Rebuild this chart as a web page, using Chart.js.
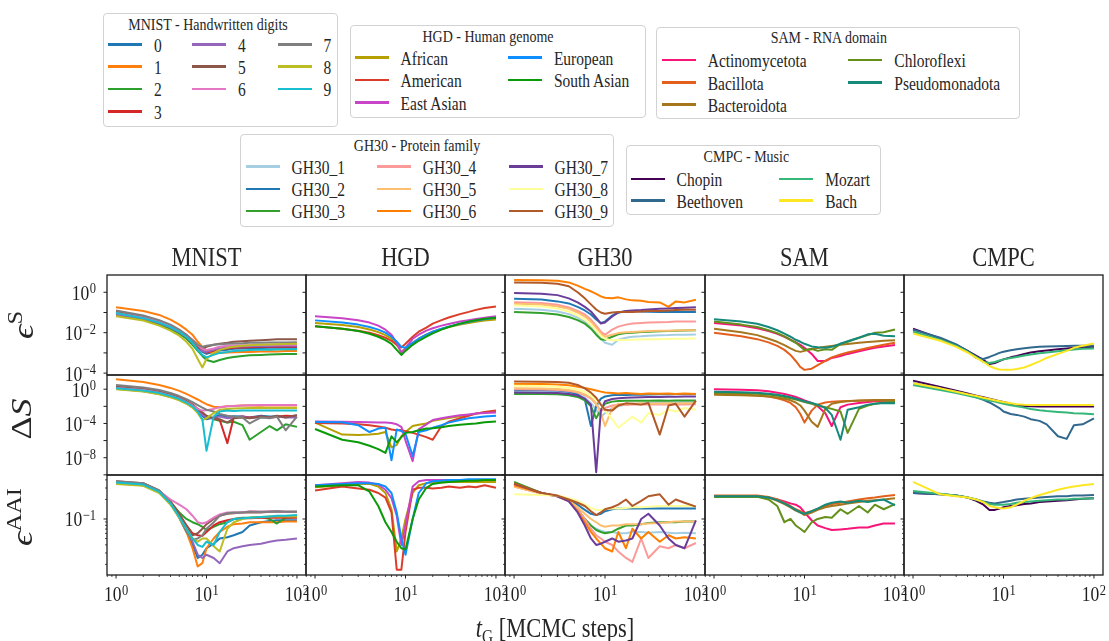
<!DOCTYPE html>
<html>
<head>
<meta charset="utf-8">
<script src="https://cdn.jsdelivr.net/npm/chart.js@4.4.1/dist/chart.umd.min.js"></script>
<style>
  html, body { margin: 0; padding: 0; background: #fff; }
  #fig { position: relative; width: 1109px; height: 641px; overflow: hidden; background: #fff;
         font-family: "Liberation Serif", "DejaVu Serif", serif; color: #262626; }
  #fig canvas { position: absolute; }
  .txt { position: absolute; white-space: nowrap; line-height: 1; }
  .lg { position: absolute; border: 1px solid #d2d2d2; border-radius: 4px; background: #fff; box-sizing: border-box; }
  .sw { position: absolute; height: 2.5px; width: 34px; }
</style>
</head>
<body>
<div id="fig"></div>
<script>
// MCMC steps at which every curve is sampled
const T_STEPS = [1, 2, 3, 4, 5, 6, 7, 8, 9, 10, 12, 14, 17, 20, 25, 30, 40, 50, 60, 75, 100];

const MNIST_LABELS = ['0', '1', '2', '3', '4', '5', '6', '7', '8', '9'];
const MNIST_COLORS = ['#1f77b4', '#ff7f0e', '#2ca02c', '#d62728', '#9467bd', '#8c564b', '#e377c2', '#7f7f7f', '#bcbd22', '#17becf'];
const HGD_LABELS = ['African', 'American', 'East Asian', 'European', 'South Asian'];
const HGD_COLORS = ['#b5a000', '#dc3d2a', '#c845c8', '#0f8fff', '#0a9a0a'];
const GH30_LABELS = ['GH30_1', 'GH30_2', 'GH30_3', 'GH30_4', 'GH30_5', 'GH30_6', 'GH30_7', 'GH30_8', 'GH30_9'];
const GH30_COLORS = ['#a6cee3', '#1f78b4', '#33a02c', '#fb9a99', '#fdbf6f', '#ff7f00', '#6a3d9a', '#ffff99', '#b15928'];
const SAM_LABELS = ['Actinomycetota', 'Bacillota', 'Bacteroidota', 'Chloroflexi', 'Pseudomonadota'];
const SAM_COLORS = ['#f7157a', '#e2601c', '#a6761d', '#64901a', '#158a7c'];
const CMPC_LABELS = ['Chopin', 'Beethoven', 'Mozart', 'Bach'];
const CMPC_COLORS = ['#440154', '#31688e', '#35b779', '#fde725'];

// all curves below are log10 of the plotted value, one row per legend entry
const mnistEpsS = [
  [-0.95, -1.2, -1.42, -1.65, -1.9, -2.15, -2.45, -2.75, -2.95, -3.05, -2.95, -2.88, -2.84, -2.8, -2.78, -2.77, -2.76, -2.75, -2.75, -2.75, -2.75],
  [-0.74, -0.93, -1.12, -1.35, -1.6, -1.85, -2.1, -2.45, -2.7, -2.88, -3.02, -3.0, -2.98, -2.97, -2.95, -2.95, -2.93, -2.92, -2.93, -2.9, -2.9],
  [-1.12, -1.35, -1.58, -1.82, -2.05, -2.3, -2.6, -2.9, -3.15, -3.35, -3.45, -3.35, -3.25, -3.2, -3.15, -3.12, -3.1, -3.08, -3.07, -3.05, -3.05],
  [-1.05, -1.28, -1.5, -1.72, -1.95, -2.2, -2.5, -2.75, -2.9, -2.98, -2.9, -2.82, -2.78, -2.75, -2.73, -2.72, -2.7, -2.7, -2.7, -2.7, -2.7],
  [-1.1, -1.3, -1.52, -1.75, -1.98, -2.22, -2.5, -2.78, -2.92, -2.95, -2.85, -2.78, -2.72, -2.7, -2.68, -2.67, -2.66, -2.66, -2.65, -2.65, -2.65],
  [-0.95, -1.2, -1.42, -1.65, -1.9, -2.15, -2.45, -2.75, -2.8, -2.7, -2.6, -2.55, -2.5, -2.45, -2.42, -2.4, -2.37, -2.35, -2.33, -2.33, -2.32],
  [-1.02, -1.25, -1.45, -1.65, -1.88, -2.1, -2.35, -2.62, -2.8, -2.85, -2.78, -2.7, -2.65, -2.63, -2.62, -2.62, -2.61, -2.6, -2.6, -2.6, -2.6],
  [-0.9, -1.15, -1.38, -1.6, -1.85, -2.1, -2.38, -2.6, -2.7, -2.65, -2.6, -2.57, -2.55, -2.53, -2.52, -2.5, -2.5, -2.48, -2.48, -2.48, -2.47],
  [-1.19, -1.4, -1.65, -1.9, -2.15, -2.45, -2.8, -3.3, -3.72, -3.3, -3.0, -2.85, -2.75, -2.7, -2.65, -2.62, -2.6, -2.58, -2.57, -2.56, -2.55],
  [-1.03, -1.28, -1.5, -1.72, -1.95, -2.2, -2.5, -2.85, -3.1, -3.22, -3.1, -3.0, -2.95, -2.9, -2.88, -2.86, -2.85, -2.84, -2.83, -2.82, -2.82]
];
const mnistDeltaS = [
  [0.1, -0.2, -0.5, -0.85, -1.2, -1.6, -2.05, -2.6, -3.1, -3.5, -3.3, -3.0, -3.3, -3.15, -3.2, -3.3, -3.1, -3.2, -3.15, -3.2, -3.2],
  [1.17, 0.85, 0.5, 0.15, -0.2, -0.55, -0.9, -1.2, -1.5, -1.75, -2.05, -2.1, -2.0, -1.95, -1.9, -1.9, -1.92, -1.88, -1.9, -1.88, -1.9],
  [0.1, -0.18, -0.5, -0.85, -1.2, -1.6, -2.0, -2.5, -2.9, -3.2, -3.5, -3.7, -3.9, -3.8, -4.2, -5.9, -5.0, -4.3, -4.8, -4.1, -4.4],
  [0.25, 0, -0.3, -0.65, -1.0, -1.4, -1.8, -2.3, -2.8, -3.2, -3.4, -3.6, -6.3, -3.3, -3.2, -3.3, -3.2, -3.3, -3.25, -3.1, -3.15],
  [0.05, -0.25, -0.55, -0.9, -1.25, -1.65, -2.1, -2.6, -3.0, -3.3, -3.35, -3.2, -3.4, -3.3, -3.2, -3.35, -3.25, -3.3, -3.2, -3.3, -3.3],
  [0.3, 0, -0.3, -0.65, -1.0, -1.4, -1.8, -2.3, -2.7, -3.1, -3.4, -3.5, -3.9, -3.4, -3.3, -3.4, -3.2, -3.3, -3.1, -3.3, -3.0],
  [0.15, -0.1, -0.4, -0.75, -1.1, -1.5, -1.9, -2.3, -2.5, -2.45, -2.3, -2.1, -2.0, -1.95, -1.9, -1.88, -1.85, -1.85, -1.83, -1.83, -1.83],
  [0.5, 0.2, -0.1, -0.45, -0.8, -1.15, -1.5, -1.85, -2.15, -2.4, -2.6, -2.9, -3.1, -3.2, -3.3, -4.0, -3.3, -3.4, -3.2, -4.8, -3.2],
  [0, -0.28, -0.6, -0.95, -1.3, -1.7, -2.15, -2.8, -3.6, -3.4, -2.8, -2.4, -2.3, -2.25, -2.22, -2.2, -2.2, -2.2, -2.2, -2.2, -2.2],
  [0.12, -0.15, -0.45, -0.8, -1.15, -1.55, -2.0, -2.6, -3.5, -7.2, -3.2, -2.6, -2.5, -2.55, -2.5, -2.5, -2.48, -2.5, -2.5, -2.5, -2.5]
];
const mnistEpsAAI = [
  [-0.43, -0.46, -0.57, -0.75, -0.97, -1.18, -1.4, -1.6, -1.55, -1.45, -1.38, -1.3, -1.28, -1.25, -1.2, -1.1, -1.05, -1.03, -1.02, -1.02, -1.02],
  [-0.45, -0.48, -0.58, -0.76, -0.98, -1.2, -1.45, -1.73, -1.68, -1.45, -1.3, -1.2, -1.12, -1.08, -1.07, -1.05, -1.05, -1.05, -1.05, -1.04, -1.04],
  [-0.45, -0.48, -0.58, -0.74, -0.9, -1.0, -1.05, -1.08, -1.12, -1.17, -1.12, -1.08, -1.05, -1.0, -0.98, -0.98, -0.97, -1.0, -1.07, -0.98, -0.97],
  [-0.43, -0.46, -0.57, -0.74, -0.93, -1.1, -1.22, -1.25, -1.26, -1.2, -1.1, -1.05, -1.02, -1.0, -0.99, -0.99, -0.98, -0.98, -0.98, -0.98, -0.98],
  [-0.44, -0.47, -0.58, -0.75, -0.95, -1.15, -1.35, -1.55, -1.6, -1.55, -1.6, -1.68, -1.5, -1.45, -1.42, -1.4, -1.38, -1.35, -1.33, -1.32, -1.3],
  [-0.42, -0.45, -0.56, -0.73, -0.92, -1.1, -1.25, -1.22, -1.15, -1.08, -1.0, -0.95, -0.92, -0.91, -0.9, -0.9, -0.9, -0.89, -0.89, -0.89, -0.89],
  [-0.44, -0.47, -0.57, -0.7, -0.78, -0.85, -0.95, -1.05, -1.07, -1.05, -0.98, -0.93, -0.9, -0.9, -0.9, -0.88, -0.89, -0.88, -0.88, -0.89, -0.89],
  [-0.42, -0.45, -0.56, -0.75, -0.98, -1.2, -1.32, -1.3, -1.25, -1.15, -1.05, -0.95, -0.91, -0.9, -0.9, -0.89, -0.89, -0.89, -0.88, -0.89, -0.89],
  [-0.46, -0.49, -0.6, -0.78, -0.98, -1.15, -1.3, -1.35, -1.3, -1.3, -1.42, -1.5, -1.15, -1.05, -1.0, -0.98, -0.97, -0.96, -0.96, -0.96, -0.96],
  [-0.44, -0.47, -0.58, -0.76, -0.97, -1.15, -1.3, -1.4, -1.43, -1.35, -1.4, -1.2, -1.05, -1.0, -0.99, -0.98, -0.97, -0.96, -0.95, -0.95, -0.94]
];

const hgdEpsS = [
  [-1.52, -1.62, -1.72, -1.84, -1.97, -2.12, -2.3, -2.6, -2.95, -2.8, -2.5, -2.3, -2.1, -1.95, -1.82, -1.72, -1.6, -1.52, -1.46, -1.4, -1.35],
  [-1.68, -1.8, -1.9, -2.0, -2.12, -2.25, -2.4, -2.6, -2.73, -2.55, -2.2, -1.95, -1.75, -1.55, -1.38, -1.25, -1.08, -0.97, -0.87, -0.78, -0.7],
  [-1.19, -1.28, -1.38, -1.5, -1.65, -1.85, -2.1, -2.5, -3.0, -2.75, -2.3, -2.1, -1.9, -1.78, -1.65, -1.57, -1.45, -1.38, -1.32, -1.26, -1.19],
  [-1.39, -1.5, -1.6, -1.72, -1.85, -2.0, -2.2, -2.45, -2.7, -2.75, -2.5, -2.3, -2.1, -1.95, -1.8, -1.7, -1.56, -1.47, -1.4, -1.33, -1.26],
  [-1.68, -1.8, -1.92, -2.05, -2.2, -2.37, -2.55, -2.85, -3.1, -2.9, -2.6, -2.4, -2.2, -2.03, -1.85, -1.72, -1.55, -1.45, -1.38, -1.31, -1.26]
];
const hgdDeltaS = [
  [-3.9, -5.3, -5.35, -5.3, -5.2, -5.0, -6.8, -6.5, -5.5, -5.0, -4.3, -4.15, -4.0, -3.7, -3.5, -3.35, -3.15, -3.0, -2.85, -2.72, -2.6],
  [-3.95, -4.0, -4.1, -4.2, -4.35, -4.5, -4.7, -4.8, -4.75, -4.9, -5.1, -5.3, -5.6, -5.9, -4.3, -3.8, -3.4, -3.1, -2.85, -2.65, -2.49],
  [-3.77, -3.8, -3.82, -3.85, -3.88, -3.9, -3.95, -4.1, -4.4, -6.0, -8.4, -4.7, -4.1, -3.6, -3.4, -3.25, -3.05, -2.95, -2.85, -2.78, -2.72],
  [-3.82, -3.85, -4.2, -5.0, -4.6, -4.5, -8.3, -4.7, -4.9, -5.2, -7.8, -5.0, -4.8, -4.5, -4.2, -3.9, -3.6, -3.4, -3.3, -3.2, -3.1],
  [-4.65, -5.9, -6.2, -6.6, -7.0, -7.44, -5.5, -6.2, -5.6, -5.1, -5.0, -4.8, -4.6, -4.55, -4.45, -4.3, -4.15, -4.05, -4.0, -3.85, -3.77]
];
const hgdEpsAAI = [
  [-0.51, -0.48, -0.46, -0.46, -0.5, -0.6, -0.85, -1.5, -1.3, -1.0, -0.6, -0.48, -0.45, -0.44, -0.44, -0.43, -0.43, -0.43, -0.43, -0.43, -0.43],
  [-0.56, -0.5, -0.53, -0.55, -0.6, -0.67, -0.9, -1.78, -1.78, -1.2, -0.55, -0.52, -0.52, -0.53, -0.52, -0.5, -0.52, -0.5, -0.51, -0.48, -0.52],
  [-0.48, -0.45, -0.43, -0.44, -0.47, -0.55, -0.68, -0.95, -1.4, -1.1, -0.5, -0.42, -0.4, -0.4, -0.4, -0.4, -0.4, -0.4, -0.4, -0.4, -0.4],
  [-0.48, -0.46, -0.45, -0.45, -0.46, -0.5, -0.6, -0.9, -1.3, -1.55, -1.0, -0.6, -0.45, -0.42, -0.41, -0.4, -0.4, -0.39, -0.39, -0.39, -0.39],
  [-0.5, -0.48, -0.48, -0.58, -0.8, -1.05, -1.2, -1.35, -1.45, -1.47, -1.0, -0.7, -0.52, -0.46, -0.44, -0.43, -0.42, -0.41, -0.41, -0.4, -0.4]
];

const gh30EpsS = [
  [-0.82, -0.86, -0.95, -1.08, -1.25, -1.45, -1.7, -2.0, -2.3, -2.5, -2.6, -2.35, -2.25, -2.2, -2.18, -2.15, -2.13, -2.12, -2.1, -2.1, -2.09],
  [-0.32, -0.36, -0.45, -0.55, -0.72, -0.9, -1.1, -1.35, -1.52, -1.45, -1.15, -1.0, -0.95, -0.93, -0.95, -0.96, -0.97, -0.97, -0.98, -0.98, -0.98],
  [-0.98, -1.02, -1.1, -1.22, -1.38, -1.55, -1.8, -2.1, -2.32, -2.35, -2.2, -2.08, -2.02, -2.0, -1.97, -1.95, -1.93, -1.91, -1.9, -1.89, -1.88],
  [-0.49, -0.53, -0.62, -0.75, -0.92, -1.1, -1.35, -1.65, -1.95, -2.1, -1.85, -1.7, -1.6, -1.55, -1.52, -1.5, -1.48, -1.47, -1.45, -1.45, -1.44],
  [-0.57, -0.6, -0.7, -0.82, -1.0, -1.2, -1.45, -1.75, -2.05, -2.2, -2.1, -2.02, -1.98, -1.96, -1.94, -1.92, -1.9, -1.9, -1.89, -1.88, -1.88],
  [0.61, 0.6, 0.57, 0.49, 0.33, 0.17, 0.05, -0.08, -0.2, -0.27, -0.3, -0.25, -0.35, -0.4, -0.42, -0.48, -0.5, -0.72, -0.45, -0.5, -0.37],
  [-0.03, -0.07, -0.14, -0.3, -0.5, -0.72, -0.95, -1.25, -1.55, -1.5, -1.2, -1.0, -0.92, -0.9, -0.88, -0.85, -0.82, -0.8, -0.78, -0.76, -0.74],
  [-0.65, -0.7, -0.8, -0.95, -1.15, -1.35, -1.6, -1.9, -2.15, -2.3, -2.38, -2.36, -2.36, -2.35, -2.34, -2.33, -2.32, -2.31, -2.3, -2.3, -2.29],
  [0.49, 0.47, 0.42, 0.3, 0.0, -0.3, -0.6, -0.85, -1.0, -1.06, -1.0, -0.98, -0.97, -0.98, -0.95, -0.93, -0.92, -0.9, -0.88, -0.87, -0.86]
];
const gh30DeltaS = [
  [-0.28, -0.3, -0.35, -0.45, -0.65, -1.0, -1.6, -2.4, -3.2, -2.8, -2.2, -2.0, -1.8, -1.7, -1.65, -1.6, -1.55, -1.55, -1.52, -1.5, -1.5],
  [-0.08, -0.1, -0.15, -0.3, -0.6, -1.2, -4.3, -2.0, -1.1, -0.85, -0.7, -0.65, -0.68, -0.66, -0.65, -0.62, -0.6, -0.58, -0.57, -0.56, -0.55],
  [-0.55, -0.56, -0.6, -0.7, -0.9, -1.3, -2.0, -3.4, -2.4, -1.7, -1.45, -1.38, -1.35, -1.36, -1.34, -1.35, -1.33, -1.34, -1.33, -1.33, -1.33],
  [0.0, -0.02, -0.08, -0.2, -0.4, -0.7, -1.1, -1.7, -2.6, -2.2, -1.9, -1.8, -1.85, -1.8, -1.78, -1.8, -1.77, -1.8, -1.78, -1.78, -1.77],
  [0.1, 0.08, 0.02, -0.1, -0.3, -0.6, -1.0, -1.7, -2.8, -4.3, -2.2, -1.7, -1.75, -1.7, -1.65, -1.7, -1.68, -1.65, -1.66, -1.64, -1.64],
  [0.62, 0.6, 0.55, 0.45, 0.3, 0.15, 0, -0.15, -0.28, -0.38, -0.45, -0.5, -0.45, -0.5, -0.55, -0.5, -0.52, -0.5, -0.55, -0.5, -0.55],
  [-0.39, -0.4, -0.45, -0.55, -0.75, -1.1, -1.8, -9.7, -2.5, -1.4, -1.15, -1.05, -1.0, -0.98, -0.95, -0.92, -0.9, -0.88, -0.87, -0.86, -0.86],
  [0.4, 0.38, 0.3, 0.15, -0.05, -0.3, -0.7, -1.2, -1.8, -2.5, -3.5, -4.5, -3.8, -3.2, -3.9, -2.8, -3.0, -2.4, -2.6, -2.2, -2.4],
  [0.89, 0.88, 0.85, 0.75, 0.5, 0.1, -0.4, -1.0, -1.8, -2.4, -2.5, -1.9, -1.65, -1.7, -1.8, -1.6, -5.3, -1.9, -1.7, -3.2, -1.33]
];
const gh30EpsAAI = [
  [-0.5, -0.61, -0.65, -0.72, -0.85, -1.0, -1.1, -1.15, -1.18, -1.2, -1.2, -1.22, -1.22, -1.2, -1.2, -1.21, -1.2, -1.21, -1.22, -1.21, -1.22],
  [-0.47, -0.6, -0.65, -0.7, -0.78, -0.86, -0.92, -0.94, -0.92, -0.88, -0.85, -0.84, -0.84, -0.84, -0.84, -0.84, -0.84, -0.84, -0.84, -0.84, -0.84],
  [-0.43, -0.6, -0.65, -0.72, -0.85, -1.0, -1.1, -1.17, -1.2, -1.22, -1.2, -1.15, -1.1, -1.1, -1.08, -1.06, -1.05, -1.05, -1.05, -1.04, -1.04],
  [-0.5, -0.61, -0.65, -0.72, -0.85, -1.0, -1.15, -1.25, -1.3, -1.35, -1.4, -1.5, -1.6, -1.66, -1.3, -1.6, -1.42, -1.45, -1.4, -1.45, -1.37],
  [-0.5, -0.61, -0.65, -0.72, -0.82, -0.92, -1.0, -1.05, -1.1, -1.12, -1.1, -1.1, -1.08, -1.08, -1.08, -1.07, -1.06, -1.05, -1.04, -1.04, -1.04],
  [-0.48, -0.6, -0.65, -0.72, -0.88, -1.05, -1.2, -1.3, -1.38, -1.45, -1.5, -1.2, -1.45, -1.15, -1.3, -1.2, -1.35, -1.25, -1.3, -1.28, -1.3],
  [-0.46, -0.6, -0.65, -0.73, -0.9, -1.1, -1.3, -1.4, -1.38, -1.35, -1.3, -1.35, -1.33, -1.3, -1.0, -0.92, -1.1, -1.3, -1.4, -1.45, -1.02],
  [-0.62, -0.63, -0.64, -0.68, -0.72, -0.78, -0.83, -0.86, -0.86, -0.85, -0.84, -0.84, -0.83, -0.82, -0.82, -0.81, -0.8, -0.8, -0.8, -0.8, -0.8],
  [-0.45, -0.6, -0.64, -0.7, -0.75, -0.8, -0.88, -0.94, -0.9, -0.85, -0.82, -0.78, -0.7, -0.8, -0.72, -0.65, -0.62, -0.78, -0.7, -0.75, -0.81]
];

const samEpsS = [
  [-1.52, -1.65, -1.78, -1.92, -2.05, -2.2, -2.35, -2.48, -2.6, -2.75, -3.05, -3.4, -3.4, -3.25, -3.15, -3.05, -2.92, -2.82, -2.75, -2.68, -2.61],
  [-2.0, -2.18, -2.32, -2.48, -2.65, -2.85, -3.1, -3.4, -3.7, -3.84, -3.78, -3.6, -3.4, -3.22, -3.08, -2.98, -2.85, -2.76, -2.68, -2.6, -2.5],
  [-1.8, -1.98, -2.12, -2.3, -2.45, -2.62, -2.78, -2.9, -2.95, -2.9, -2.82, -2.76, -2.7, -2.66, -2.6, -2.56, -2.5, -2.46, -2.43, -2.4, -2.37],
  [-1.44, -1.6, -1.72, -1.88, -2.02, -2.18, -2.35, -2.5, -2.68, -2.85, -2.8, -2.9, -2.82, -2.85, -2.55, -2.45, -2.25, -2.12, -2.0, -1.98, -1.84],
  [-1.34, -1.45, -1.56, -1.72, -1.88, -2.05, -2.2, -2.35, -2.45, -2.55, -2.68, -2.72, -2.75, -2.7, -2.55, -2.42, -2.25, -2.08, -2.05, -2.15, -2.17]
];
const samDeltaS = [
  [0, -0.05, -0.12, -0.25, -0.4, -0.55, -0.72, -0.9, -1.1, -1.3, -1.6, -2.0, -2.8, -4.3, -2.1, -1.8, -1.6, -1.5, -1.4, -1.35, -1.33],
  [-0.55, -0.62, -0.72, -0.85, -1.05, -1.3, -1.6, -2.1, -2.9, -3.9, -2.5, -1.8, -1.55, -1.45, -1.4, -1.38, -1.35, -1.33, -1.33, -1.32, -1.33],
  [-0.66, -0.7, -0.76, -0.85, -0.98, -1.12, -1.3, -1.55, -1.9, -2.5, -3.8, -4.4, -2.3, -1.7, -1.5, -1.4, -1.32, -1.28, -1.27, -1.25, -1.25],
  [-0.4, -0.45, -0.52, -0.62, -0.75, -0.9, -1.05, -1.2, -1.35, -1.5, -1.7, -1.9, -2.1, -2.3, -2.6, -5.1, -2.3, -1.9, -1.7, -1.55, -1.5],
  [-0.31, -0.35, -0.42, -0.52, -0.65, -0.8, -0.95, -1.1, -1.25, -1.4, -1.6, -1.8, -2.2, -3.0, -5.9, -2.4, -2.1, -1.8, -1.7, -1.6, -1.64]
];
const samEpsAAI = [
  [-0.65, -0.65, -0.65, -0.67, -0.7, -0.73, -0.76, -0.78, -0.82, -0.9, -1.02, -1.1, -1.14, -1.17, -1.16, -1.15, -1.13, -1.13, -1.1, -1.07, -1.07],
  [-0.64, -0.64, -0.64, -0.66, -0.7, -0.75, -0.8, -0.85, -0.88, -0.91, -0.88, -0.84, -0.8, -0.77, -0.75, -0.73, -0.7, -0.68, -0.67, -0.65, -0.63],
  [-0.65, -0.65, -0.65, -0.67, -0.72, -0.77, -0.82, -0.87, -0.9, -0.94, -0.9, -0.86, -0.82, -0.8, -0.78, -0.76, -0.74, -0.72, -0.71, -0.7, -0.68],
  [-0.66, -0.66, -0.66, -0.7, -0.8, -1.05, -1.0, -1.1, -1.15, -1.2, -1.05, -1.0, -0.97, -0.98, -0.85, -0.92, -0.8, -0.9, -0.78, -0.85, -0.77],
  [-0.65, -0.65, -0.65, -0.67, -0.71, -0.76, -0.81, -0.86, -0.9, -0.92, -0.88, -0.84, -0.78, -0.75, -0.73, -0.75, -0.72, -0.74, -0.72, -0.7, -0.79]
];

const cmpcEpsS = [
  [-1.8, -2.28, -2.6, -2.9, -3.15, -3.35, -3.55, -3.5, -3.4, -3.32, -3.22, -3.15, -3.05, -2.98, -2.92, -2.88, -2.82, -2.78, -2.75, -2.72, -2.7],
  [-1.85, -2.25, -2.58, -2.9, -3.25, -3.3, -3.2, -3.1, -3.0, -2.94, -2.87, -2.82, -2.77, -2.73, -2.7, -2.68, -2.67, -2.66, -2.65, -2.65, -2.65],
  [-1.95, -2.35, -2.65, -2.95, -3.2, -3.45, -3.5, -3.45, -3.38, -3.32, -3.25, -3.2, -3.13, -3.08, -3.02, -2.98, -2.92, -2.87, -2.83, -2.8, -2.78],
  [-2.04, -2.4, -2.7, -2.98, -3.25, -3.45, -3.65, -3.76, -3.82, -3.84, -3.84, -3.8, -3.72, -3.6, -3.42, -3.25, -3.05, -2.9, -2.75, -2.65, -2.53]
];
const cmpcDeltaS = [
  [1.0, 0.25, -0.19, -0.5, -0.75, -0.95, -1.11, -1.26, -1.39, -1.5, -1.7, -1.85, -1.95, -2.0, -2.02, -2.03, -2.03, -2.03, -2.03, -2.03, -2.03],
  [0.7, 0.1, -0.3, -0.65, -0.95, -1.25, -1.55, -1.9, -2.2, -2.6, -2.9, -3.0, -3.2, -3.5, -3.7, -4.1, -5.5, -5.8, -4.2, -4.1, -3.4],
  [0.5, -0.1, -0.45, -0.75, -0.98, -1.17, -1.32, -1.45, -1.58, -1.7, -1.88, -2.0, -2.15, -2.3, -2.45, -2.55, -2.65, -2.72, -2.8, -2.85, -2.92],
  [0.7, 0.1, -0.3, -0.6, -0.8, -1.0, -1.15, -1.28, -1.4, -1.5, -1.65, -1.75, -1.82, -1.85, -1.85, -1.84, -1.84, -1.84, -1.84, -1.84, -1.84]
];
const cmpcEpsAAI = [
  [-0.6, -0.62, -0.64, -0.67, -0.72, -0.78, -0.86, -0.86, -0.84, -0.82, -0.8, -0.79, -0.77, -0.76, -0.74, -0.73, -0.72, -0.71, -0.7, -0.69, -0.68],
  [-0.6, -0.62, -0.64, -0.67, -0.7, -0.73, -0.75, -0.76, -0.75, -0.74, -0.72, -0.7, -0.69, -0.68, -0.67, -0.66, -0.65, -0.65, -0.64, -0.64, -0.63],
  [-0.57, -0.61, -0.64, -0.67, -0.7, -0.74, -0.77, -0.78, -0.78, -0.78, -0.77, -0.75, -0.74, -0.73, -0.72, -0.71, -0.7, -0.7, -0.69, -0.69, -0.68],
  [-0.43, -0.62, -0.65, -0.67, -0.7, -0.74, -0.8, -0.82, -0.83, -0.84, -0.82, -0.78, -0.72, -0.68, -0.63, -0.6, -0.55, -0.52, -0.5, -0.48, -0.46]
];

const COLUMN_TITLES = ['MNIST', 'HGD', 'GH30', 'SAM', 'CMPC'];

// ---- layout ----
const FONT = '"Liberation Serif", "DejaVu Serif", serif';
const INK = '#1e1e1e';
const COL_X = [107, 306, 505, 705, 904, 1103];
const ROW_Y = [275, 375, 475, 575];
const X_LOG = [-0.1, 2.1];
const ROW_LOG = [[-4.094, 0.856], [-10.02, 1.66], [-1.862, -0.323]];
const PAD = { l: 70, r: 10, t: 6, b: 40 };
const STRETCH = 1.2;

const SETS = [
  { labels: MNIST_LABELS, colors: MNIST_COLORS, rows: [mnistEpsS, mnistDeltaS, mnistEpsAAI] },
  { labels: HGD_LABELS, colors: HGD_COLORS, rows: [hgdEpsS, hgdDeltaS, hgdEpsAAI] },
  { labels: GH30_LABELS, colors: GH30_COLORS, rows: [gh30EpsS, gh30DeltaS, gh30EpsAAI] },
  { labels: SAM_LABELS, colors: SAM_COLORS, rows: [samEpsS, samDeltaS, samEpsAAI] },
  { labels: CMPC_LABELS, colors: CMPC_COLORS, rows: [cmpcEpsS, cmpcDeltaS, cmpcEpsAAI] }
];

function decadeTicks(eFrom, eTo, step, labelEvery) {
  const out = [];
  for (let e = eFrom; e <= eTo; e += step) {
    out.push({ v: Math.pow(10, e), e, major: true, label: e % labelEvery === 0 });
  }
  return out;
}
function minorTicks(eFrom, eTo) {
  const out = [];
  for (let e = eFrom; e <= eTo; e++) {
    for (let k = 1; k <= 9; k++) {
      out.push({ v: k * Math.pow(10, e), e, major: k === 1, label: k === 1 });
    }
  }
  return out;
}
const Y_TICKS = [decadeTicks(-4, 0, 1, 2), decadeTicks(-10, 2, 2, 4), minorTicks(-2, 0)];
const X_TICKS = minorTicks(-1, 2);

// "10" with a raised exponent, drawn like mathtext
function drawPow(ctx, e, x, yMid, align) {
  const base = '10';
  const sup = e < 0 ? '\u2212' + (-e) : String(e);
  ctx.font = '17.5px ' + FONT;
  const wb = ctx.measureText(base).width;
  ctx.font = '12.5px ' + FONT;
  const ws = ctx.measureText(sup).width;
  const total = wb + 0.5 + ws;
  const x0 = align === 'right' ? x - total : x - total / 2;
  ctx.save();
  ctx.translate(x0, yMid);
  ctx.scale(1, STRETCH);
  ctx.fillStyle = INK;
  ctx.textAlign = 'left';
  ctx.textBaseline = 'alphabetic';
  ctx.font = '17.5px ' + FONT;
  ctx.fillText(base, 0, 5.8);
  ctx.font = '12.5px ' + FONT;
  ctx.fillText(sup, wb + 0.5, 0.5);
  ctx.restore();
}

const deco = {
  id: 'deco',
  afterDraw(chart, args, o) {
    const { ctx, chartArea: a } = chart;
    const xs = chart.scales.x, ys = chart.scales.y;
    ctx.save();
    ctx.strokeStyle = INK;
    Y_TICKS[o.row].forEach(t => {
      const py = ys.getPixelForValue(t.v);
      if (py < a.top - 0.5 || py > a.bottom + 0.5) return;
      ctx.lineWidth = t.major ? 1 : 0.8;
      ctx.beginPath();
      ctx.moveTo(a.left - (t.major ? 3.5 : 2), py);
      ctx.lineTo(a.left, py);
      ctx.stroke();
      if (o.col === 0 && t.label) drawPow(ctx, t.e, a.left - 11, py + 0.5, 'right');
    });
    if (o.row === 2) {
      X_TICKS.forEach(t => {
        const px = xs.getPixelForValue(t.v);
        if (px < a.left - 0.5 || px > a.right + 0.5) return;
        ctx.lineWidth = t.major ? 1 : 0.8;
        ctx.beginPath();
        ctx.moveTo(px, a.bottom);
        ctx.lineTo(px, a.bottom + (t.major ? 3.5 : 2));
        ctx.stroke();
        if (t.label) drawPow(ctx, t.e, px, a.bottom + 19, 'center');
      });
    }
    ctx.lineWidth = 1.3;
    ctx.strokeRect(a.left, a.top, a.right - a.left, a.bottom - a.top);
    ctx.restore();
  }
};

const fig = document.getElementById('fig');

function makePanel(c, r) {
  const set = SETS[c];
  const rows = set.rows[r];
  const w = COL_X[c + 1] - COL_X[c];
  const h = ROW_Y[r + 1] - ROW_Y[r];
  const canvas = document.createElement('canvas');
  canvas.width = w + PAD.l + PAD.r;
  canvas.height = h + PAD.t + PAD.b;
  canvas.style.left = (COL_X[c] - PAD.l) + 'px';
  canvas.style.top = (ROW_Y[r] - PAD.t) + 'px';
  fig.appendChild(canvas);
  const datasets = rows.map((vals, i) => ({
    label: set.labels[i],
    data: vals.map((v, k) => ({ x: T_STEPS[k], y: Math.pow(10, v) })),
    borderColor: set.colors[i],
    backgroundColor: set.colors[i],
    borderWidth: 2,
    borderJoinStyle: 'round',
    pointRadius: 0,
    tension: 0,
    fill: false,
    order: rows.length - 1 - i
  }));
  new Chart(canvas, {
    type: 'line',
    data: { datasets },
    options: {
      responsive: false,
      animation: false,
      events: [],
      layout: { autoPadding: false, padding: { left: PAD.l, right: PAD.r, top: PAD.t, bottom: PAD.b } },
      scales: {
        x: { type: 'logarithmic', display: false, bounds: 'data', min: Math.pow(10, X_LOG[0]), max: Math.pow(10, X_LOG[1]) },
        y: { type: 'logarithmic', display: false, bounds: 'data', min: Math.pow(10, ROW_LOG[r][0]), max: Math.pow(10, ROW_LOG[r][1]) }
      },
      plugins: { legend: { display: false }, tooltip: { enabled: false }, deco: { row: r, col: c } }
    },
    plugins: [deco]
  });
}

for (let c = 0; c < 5; c++) for (let r = 0; r < 3; r++) makePanel(c, r);

function addText(html, x, y, size, align, extra) {
  const d = document.createElement('div');
  d.className = 'txt';
  d.innerHTML = html;
  d.style.left = x + 'px';
  d.style.top = y + 'px';
  d.style.fontSize = size + 'px';
  const tx = align === 'center' ? '-50%' : '0';
  d.style.transform = extra || `translate(${tx}, -50%) scaleY(${STRETCH})`;
  fig.appendChild(d);
  return d;
}

// column titles
COLUMN_TITLES.forEach((t, c) => addText(t, (COL_X[c] + COL_X[c + 1]) / 2, 258, 22.5, 'center'));

// shared x label
addText('<i>t</i><span style="font-size:0.68em;position:relative;top:0.3em">G</span> [MCMC steps]', 555, 629, 22.5, 'center');

// row labels, rotated
const ROT = `translate(-50%, -50%) rotate(-90deg) scale(${STRETCH}, 1)`;
addText('<i>\u03f5</i><span style="font-size:0.68em;position:relative;top:-0.55em">S</span>', 23, 325, 30, 'center', ROT);
addText('\u0394<i>S</i>', 21, 419, 30, 'center', ROT);
addText('<i>\u03f5</i><span style="font-size:0.68em;position:relative;top:-0.55em">AAI</span>', 22, 517, 30, 'center', ROT);

// legends
const LEGENDS = [
  { title: 'MNIST - Handwritten digits', labels: MNIST_LABELS, colors: MNIST_COLORS,
    box: [103, 13, 337.5, 126.7], titleAt: [208, 25], cols: [108, 192, 277.5], rows: [44.3, 66.7, 89, 111.3] },
  { title: 'HGD - Human genome', labels: HGD_LABELS, colors: HGD_COLORS,
    box: [350, 25, 646.4, 118.3], titleAt: [488, 37.3], cols: [354.6, 507.9], rows: [57.7, 80, 102.3] },
  { title: 'SAM - RNA domain', labels: SAM_LABELS, colors: SAM_COLORS,
    box: [656, 26.7, 1020, 119.3], titleAt: [828.8, 38.3], cols: [661.7, 848.3], rows: [60, 82.3, 104.3] },
  { title: 'GH30 - Protein family', labels: GH30_LABELS, colors: GH30_COLORS,
    box: [240, 134, 613.8, 226.7], titleAt: [417, 146], cols: [245.5, 376.8, 508.6], rows: [166.7, 189, 211] },
  { title: 'CMPC - Music', labels: CMPC_LABELS, colors: CMPC_COLORS,
    box: [625.6, 145, 881, 215], titleAt: [746.4, 157.3], cols: [630.6, 779.2], rows: [179, 200.7] }
];

LEGENDS.forEach(L => {
  const b = document.createElement('div');
  b.className = 'lg';
  b.style.left = L.box[0] + 'px';
  b.style.top = L.box[1] + 'px';
  b.style.width = (L.box[2] - L.box[0]) + 'px';
  b.style.height = (L.box[3] - L.box[1]) + 'px';
  fig.appendChild(b);
  addText(L.title, L.titleAt[0], L.titleAt[1], 14, 'center');
  // entries fill columns top to bottom; the first columns take the extra ones
  const n = L.labels.length, ncol = L.cols.length;
  const per = Math.floor(n / ncol), extra = n % ncol;
  let i = 0;
  for (let col = 0; col < ncol; col++) {
    const count = per + (col < extra ? 1 : 0);
    for (let row = 0; row < count; row++, i++) {
      const x = L.cols[col], y = L.rows[row];
      const s = document.createElement('div');
      s.className = 'sw';
      s.style.left = x + 'px';
      s.style.top = (y - 1.25) + 'px';
      s.style.background = L.colors[i];
      fig.appendChild(s);
      addText(L.labels[i], x + 46, y + 1.2, 15.5, 'left');
    }
  }
});
</script>
</body>
</html>
